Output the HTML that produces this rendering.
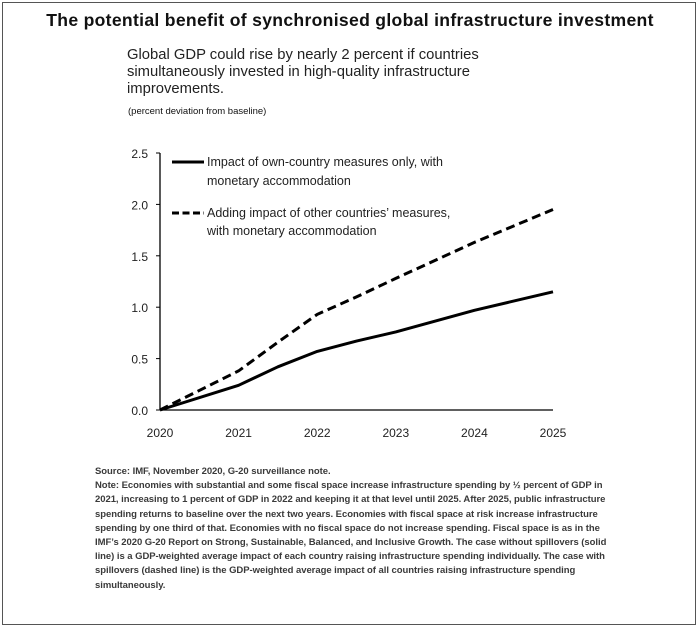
<!DOCTYPE html>
<html><head><meta charset="utf-8"><style>
body{margin:0;background:#fff;font-family:"Liberation Sans",sans-serif;}
#frame{position:absolute;left:2px;top:2px;width:692px;height:621px;border:1px solid #555;}
.t{position:absolute;white-space:nowrap;color:#111;}
.note{position:absolute;left:95px;font-size:9.5px;line-height:14.2px;color:#3a3a3a;font-weight:bold;white-space:nowrap;letter-spacing:-0.05px}
</style></head><body>
<div id="frame"></div>
<div class="t" style="left:0;width:700px;text-align:center;top:10px;font-size:17.6px;letter-spacing:0.3px;font-weight:bold">The potential benefit of synchronised global infrastructure investment</div>
<div class="t" style="left:127px;top:47px;font-size:14.8px;line-height:17px;color:#222">Global GDP could rise by nearly 2 percent if countries<br>simultaneously invested in high-quality infrastructure<br>improvements.</div>
<div class="t" style="left:128px;top:106px;font-size:9.5px">(percent deviation from baseline)</div>
<svg id="chart" width="700" height="460" style="position:absolute;left:0;top:0"></svg>
<div class="note" style="top:465px">Source: IMF, November 2020, G-20 surveillance note.</div>
<div class="note" style="top:479.2px">Note: Economies with substantial and some fiscal space increase infrastructure spending by ½ percent of GDP in<br>2021, increasing to 1 percent of GDP in 2022 and keeping it at that level until 2025. After 2025, public infrastructure<br>spending returns to baseline over the next two years. Economies with fiscal space at risk increase infrastructure<br>spending by one third of that. Economies with no fiscal space do not increase spending. Fiscal space is as in the<br>IMF’s 2020 G-20 Report on Strong, Sustainable, Balanced, and Inclusive Growth. The case without spillovers (solid<br>line) is a GDP-weighted average impact of each country raising infrastructure spending individually. The case with<br>spillovers (dashed line) is the GDP-weighted average impact of all countries raising infrastructure spending<br>simultaneously.</div>
<script>
const years=[2020,2021,2021.5,2022,2022.5,2023,2024,2025];
const ownCountry=[0,0.24,0.42,0.57,0.67,0.76,0.97,1.15];
const withSpillovers=[0,0.38,0.66,0.93,1.1,1.28,1.63,1.95];
const yTicks=[0,0.5,1.0,1.5,2.0,2.5];
const xTicks=[2020,2021,2022,2023,2024,2025];
const NS="http://www.w3.org/2000/svg";
const svg=document.getElementById('chart');
const X=v=>160+(v-2020)*(553-160)/5;
const Y=v=>410-v*(410-153)/2.5;
function mk(t,a){const e=document.createElementNS(NS,t);for(const k in a)e.setAttribute(k,a[k]);svg.appendChild(e);return e;}
let e=mk('line',{x1:X(2020),y1:Y(0),x2:X(2020),y2:Y(2.5),stroke:'#000','stroke-width':1.3});


e=mk('line',{x1:X(2020),y1:Y(0),x2:X(2025),y2:Y(0),stroke:'#000','stroke-width':1.3});


yTicks.forEach(v=>{
  const t=mk('text',{x:148,y:Y(v)+5,'text-anchor':'end','font-size':12,fill:'#222'});
  t.textContent=v.toFixed(1);
  
  
  const l=mk('line',{x1:X(2020)-4,y1:Y(v),x2:X(2020),y2:Y(v),stroke:'#000'});
  
  
});
xTicks.forEach(v=>{
  const t=mk('text',{x:X(v),y:437,'text-anchor':'middle','font-size':12,fill:'#222'});
  t.textContent=String(v);
  
  
});
function path(vals){return vals.map((v,i)=>(i?'L':'M')+X(years[i]).toFixed(1)+','+Y(v).toFixed(1)).join('');}
e=mk('path',{d:path(ownCountry),fill:'none',stroke:'#000','stroke-width':3,'stroke-linejoin':'round'});


e=mk('path',{d:path(withSpillovers),fill:'none',stroke:'#000','stroke-width':3,'stroke-dasharray':'9,5'});


e=mk('line',{x1:172,y1:162,x2:204,y2:162,stroke:'#000','stroke-width':3});


e=mk('line',{x1:172,y1:213,x2:204,y2:213,stroke:'#000','stroke-width':3,'stroke-dasharray':'7,3.5'});


[["Impact of own-country measures only, with",166],["monetary accommodation",185],["Adding impact of other countries’ measures,",217],["with monetary accommodation",235]].forEach(([s,y])=>{
  const t=mk('text',{x:207,y:y,'font-size':12.5,fill:'#222'});
  t.textContent=s;
  
  
});
</script>
</body></html>
